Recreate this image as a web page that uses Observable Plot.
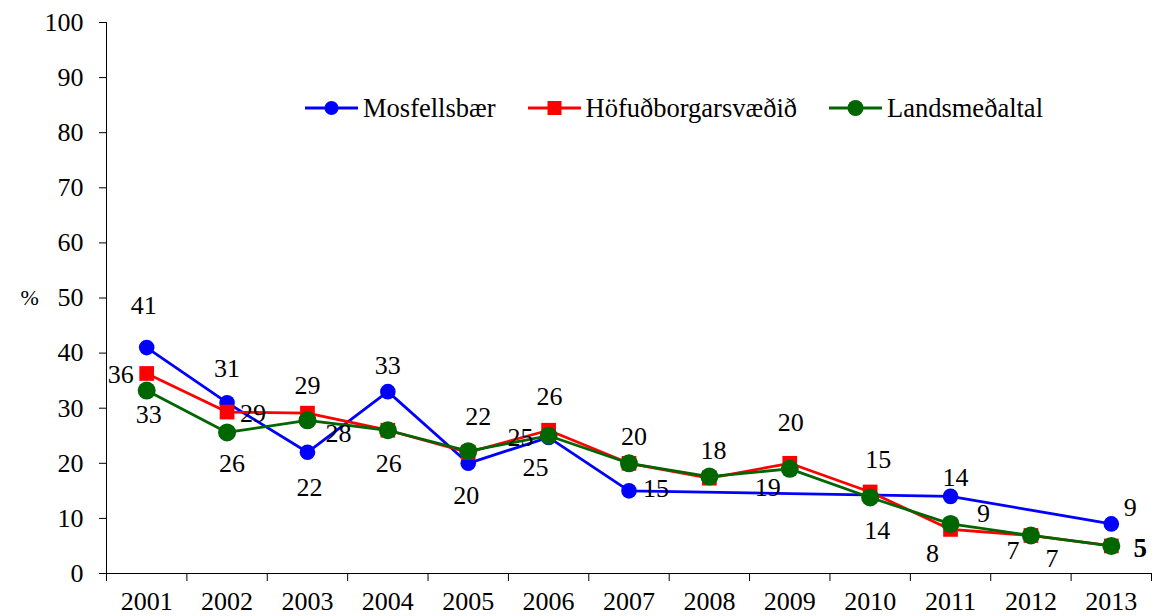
<!DOCTYPE html>
<html><head><meta charset="utf-8">
<script src="https://cdn.jsdelivr.net/npm/d3@7"></script>
<script src="https://cdn.jsdelivr.net/npm/@observablehq/plot@0.6"></script>
<style>
body{margin:0;background:#fff;}
#wrap{position:relative;width:1156px;height:616px;font-family:"Liberation Serif",serif;}
#legend{position:absolute;left:305px;top:92px;display:flex;align-items:center;gap:32px;font-size:26.5px;color:#000;line-height:32px;}
.item{display:flex;align-items:center;gap:5px;}
.item svg{display:block;}
</style></head><body><div id="wrap"></div>
<script>
// ---- data ----
const years = [2001,2002,2003,2004,2005,2006,2007,2008,2009,2010,2011,2012,2013];
const mosfellsbaer       = [41, 31, 22, 33, 20, 24.7, 15, null, null, null, 14, null, 9];
const hofudborgarsvaedid = [36.3, 29.3, 29.1, 26, 22, 26, 20, 17.3, 20, 14.8, 8, 6.9, 5];
const landsmedaltal      = [33.2, 25.6, 27.8, 26, 22.2, 25, 20, 17.6, 19, 13.8, 9, 6.9, 5];
const seriesNames = ["Mosfellsbær", "Höfuðborgarsvæðið", "Landsmeðaltal"];
const yTicks = [0,10,20,30,40,50,60,70,80,90,100];
const yLabel = "%";

// ---- label layout (pixel nudges from each point; null = no label) ----
const mosLabelNudge  = [[-3,-42],[0,-34],[2,35],[0,-26],[-2,32],[-13,30],[27,-2],null,null,null,[5,-19],null,[19,-16]];
const hofLabelNudge  = [[-26,1],[26,2],[0,-27],null,[10,-36],[1,-34],[5,-27],null,[1,-41],[8,-32],[-18,24],[-18,15],null];
const landLabelNudge = [[2,24],[5,31],[31,13],[1,33],null,[-28,2],null,[4,-26],[-22,19],[7,33],[33,-10],[21,23],[29,2]];
const boldLabel = {series: "Landsmeðaltal", year: 2013};

// ---- styles ----
const styles = [
  {color: "#0000FF", symbol: "circle", r: 7.8},
  {color: "#FF0000", symbol: "square", r: 8.3},
  {color: "#006600", symbol: "circle", r: 9}
];
const FONT = "Liberation Serif";

const seriesValues = [mosfellsbaer, hofudborgarsvaedid, landsmedaltal];
const nudges = [mosLabelNudge, hofLabelNudge, landLabelNudge];

const rows = seriesValues.map((vals, s) =>
  years.map((year, i) => ({series: seriesNames[s], year, value: vals[i]}))
       .filter(d => d.value != null));

const labels = [];
seriesValues.forEach((vals, s) => {
  years.forEach((year, i) => {
    const n = nudges[s][i];
    if (n && vals[i] != null) labels.push({
      series: seriesNames[s], year, value: vals[i], text: String(Math.round(vals[i])),
      dx: n[0], dy: n[1],
      bold: seriesNames[s] === boldLabel.series && year === boldLabel.year
    });
  });
});

const bounds = [...years.map(y => y - 0.5), years[years.length - 1] + 0.5];

const marks = [
  Plot.axisY({ticks: yTicks, tickSize: 7, tickPadding: 16, fontSize: 26, fontFamily: FONT, label: null, stroke: "#000", fill: "#000"}),
  Plot.axisX({ticks: bounds, tickSize: 8, tickFormat: () => "", label: null, stroke: "#000"}),
  Plot.axisX({ticks: years, tickSize: 0, tickPadding: 18, fontSize: 26, fontFamily: FONT, tickFormat: d => String(d), label: null, fill: "#000"}),
  Plot.ruleX([bounds[0]], {stroke: "#000", strokeWidth: 1}),
  Plot.ruleY([0], {stroke: "#000", strokeWidth: 1}),
  Plot.text([yLabel], {frameAnchor: "left", y: () => 50, dx: -86, fontSize: 22, fontFamily: FONT, fill: "#000"})
];

rows.forEach((data, s) => {
  const st = styles[s];
  marks.push(Plot.line(data, {x: "year", y: "value", stroke: st.color, strokeWidth: 2.8}));
  marks.push(Plot.dot(data, {x: "year", y: "value", symbol: st.symbol, r: st.r, fill: st.color, stroke: "none"}));
});

labels.forEach(l => {
  marks.push(Plot.text([l], {x: "year", y: "value", text: "text", dx: l.dx, dy: l.dy,
    fontSize: l.bold ? 27 : 26, fontWeight: l.bold ? "bold" : "normal", fontFamily: FONT, fill: "#000"}));
});

const chart = Plot.plot({
  width: 1156, height: 616,
  marginLeft: 106, marginRight: 5, marginTop: 22, marginBottom: 43,
  x: {type: "linear", domain: [bounds[0], bounds[bounds.length - 1]]},
  y: {domain: [0, 100]},
  style: {fontFamily: FONT, fontSize: "26px", color: "#000", background: "#fff"},
  marks
});

const wrap = document.getElementById("wrap");
wrap.appendChild(chart);

// legend overlay
const legend = document.createElement("div");
legend.id = "legend";
seriesNames.forEach((name, s) => {
  const st = styles[s];
  const item = document.createElement("div");
  item.className = "item";
  const marker = st.symbol === "square"
    ? `<rect x="${26.5 - 7}" y="${10 - 7}" width="14" height="14" fill="${st.color}"/>`
    : `<circle cx="26.5" cy="10" r="${s === 2 ? 8 : 7}" fill="${st.color}"/>`;
  item.innerHTML = `<svg width="53" height="20"><line x1="0" x2="53" y1="10" y2="10" stroke="${st.color}" stroke-width="3"/>${marker}</svg><span>${name}</span>`;
  legend.appendChild(item);
});
wrap.appendChild(legend);
</script>
</body></html>
